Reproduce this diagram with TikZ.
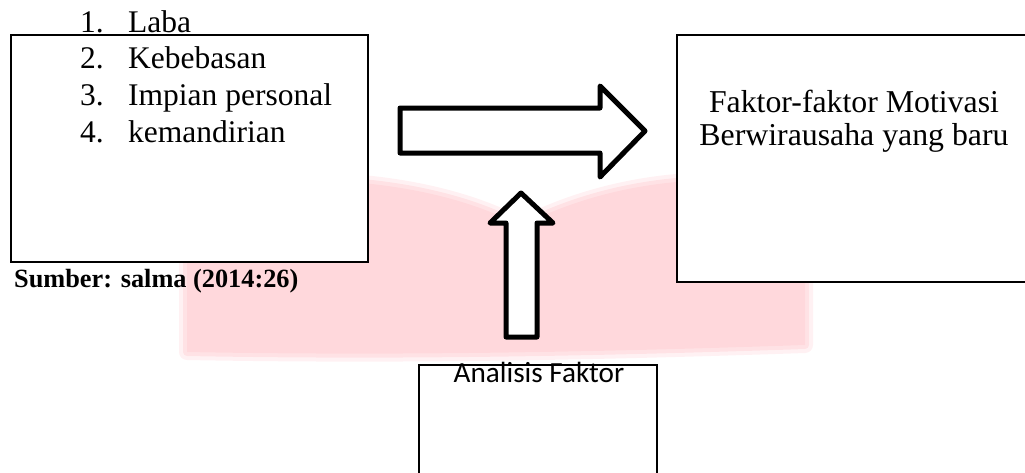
\documentclass[tikz,border=0pt]{standalone}
\usepackage{fontspec}
\setmainfont{Liberation Serif}
\newfontfamily\calib{Carlito}
\definecolor{wmpink}{RGB}{255,216,220}
\begin{document}
\begin{tikzpicture}[x=1pt,y=-1pt,
  box/.style={draw=black,line width=1.8pt,fill=white},
  bigarrow/.style={draw=black,line width=5pt,line join=round,fill=white},
  listtxt/.style={anchor=base west,inner sep=0pt,font=\fontsize{31.5}{37}\selectfont},
  midtxt/.style={anchor=base,inner sep=0pt,font=\fontsize{31.8}{37}\selectfont}]
\useasboundingbox (0,0) rectangle (1025,472);
\clip (0,0) rectangle (1025,472);
% watermark
\def\wmpath{(187,352) -- (187,188) .. controls (300,172) and (430,178) .. (521,226)
   .. controls (615,178) and (720,172) .. (805,188) -- (805,345) .. controls (600,352) and (400,356) .. (187,352) -- cycle}
\path[draw=wmpink,draw opacity=0.35,line width=16pt,line join=round] \wmpath;
\path[draw=wmpink,draw opacity=0.6,line width=8pt,line join=round,fill=wmpink] \wmpath;
% left box
\draw[box] (11,35) rectangle (368,262);
\node[listtxt] (n1) at (80,32) {1.};
\node[listtxt] (t1) at (128,32) {Laba};
\node[listtxt] (n2) at (80,68) {2.};
\node[listtxt] (t2) at (128,68) {Kebebasan};
\node[listtxt] (n3) at (80,105) {3.};
\node[listtxt] (t3) at (128,105) {Impian personal};
\node[listtxt] (n4) at (80,142) {4.};
\node[listtxt] (t4) at (128,142) {kemandirian};
\node[anchor=base west,inner sep=0pt,font=\bfseries\fontsize{26.3}{30}\selectfont] (src) at (14,287) {Sumber: salma (2014:26)};
% right box
\draw[box] (677,35) rectangle (1040,282);
\node[midtxt] (r1) at (854,112) {Faktor-faktor Motivasi};
\node[midtxt] (r2) at (854,145) {Berwirausaha yang baru};
% arrows
\draw[bigarrow] (400,108) -- (600,108) -- (600,86) -- (645,131) -- (600,177) -- (600,153) -- (400,153) -- cycle;
\draw[bigarrow] (521,193) -- (553,223) -- (537,223) -- (537,337) -- (506,337) -- (506,223) -- (490,223) -- cycle;
% bottom box
\draw[box] (419,365) rectangle (657,490);
\node[anchor=base,inner sep=0pt,font=\calib\fontsize{29.2}{32}\selectfont] (af) at (539,382) {Analisis Faktor};
\end{tikzpicture}
\end{document}
